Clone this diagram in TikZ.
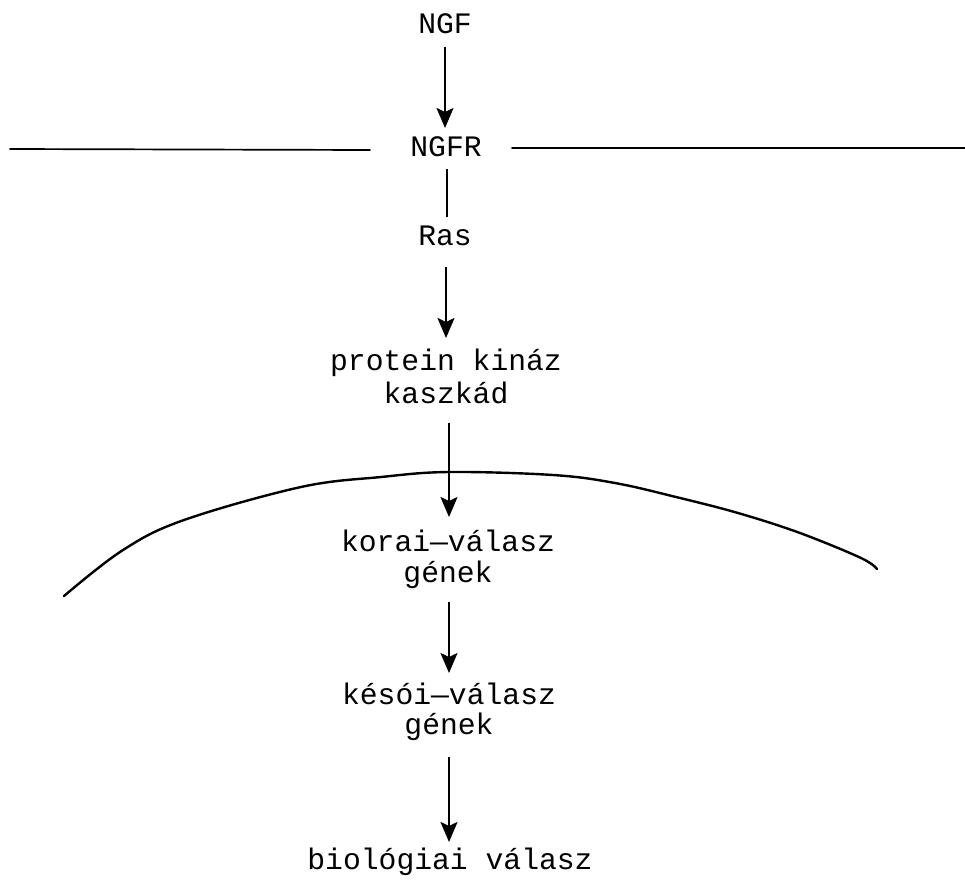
\documentclass[tikz,border=0pt]{standalone}
\usepackage{fontspec}
\setmainfont{Liberation Mono}
\usetikzlibrary{arrows.meta}
\begin{document}
\begin{tikzpicture}[x=1pt,y=-1pt,
  lbl/.style={anchor=south, inner sep=0pt, text depth=0pt, align=center,
    font=\fontsize{29.7}{31}\selectfont},
  arr/.style={line width=2.2pt, -{Stealth[length=20pt,width=17pt,inset=4pt]}},
  plain/.style={line width=2.2pt},
  membrane/.style={line width=1.7pt, line cap=round},
  envelope/.style={line width=2.4pt, line cap=round}]
  \useasboundingbox (0,0) rectangle (965,889);

  % cell membrane with the receptor in it
  \draw[membrane] (10,149) -- (370,150);
  \draw[membrane] (512,148) -- (965,148);

  % nuclear envelope
  \draw[envelope] plot[smooth, tension=0.6] coordinates {
    (64,596) (123,550) (184,520) (301,487) (381,477) (449,472)
    (553,475) (615,483) (676,497) (738,513) (800,533) (861,558) (877,569)};

  % labels, each placed by the baseline of its last line
  \node[lbl] (ngf)   at (445,34)  {NGF};
  \node[lbl] (ngfr)  at (446,157) {NGFR};
  \node[lbl] (ras)   at (445,246) {Ras};
  \node[lbl] (pk)    at (446,404) {protein kináz\\[2pt]kaszkád};
  \node[lbl] (korai) at (448,583) {korai—válasz\\gének};
  \node[lbl] (kesoi) at (449,735) {késói—válasz\\[-1pt]gének};
  \node[lbl] (bio)   at (450,870) {biológiai válasz};

  % signalling chain
  \draw[arr]   ([yshift=-13pt]ngf.south) -- ([yshift=29pt]ngfr.south -| ngf.south);
  \draw[plain] ([xshift=1pt,yshift=-12pt]ngfr.south) -- ([xshift=1pt,yshift=29pt]ras.south -| ngfr.south);
  \draw[arr]   ([xshift=1pt,yshift=-21pt]ras.south) -- ([xshift=1pt,yshift=66pt]pk.south -| ras.south);
  \draw[arr]   ([xshift=3pt,yshift=-19pt]pk.south) -- ([xshift=3pt,yshift=66pt]korai.south -| pk.south);
  \draw[arr]   ([xshift=1pt,yshift=-19pt]korai.south) -- ([xshift=1pt,yshift=62pt]kesoi.south -| korai.south);
  \draw[arr]   ([yshift=-22pt]kesoi.south) -- ([yshift=28pt]bio.south -| kesoi.south);
\end{tikzpicture}
\end{document}
